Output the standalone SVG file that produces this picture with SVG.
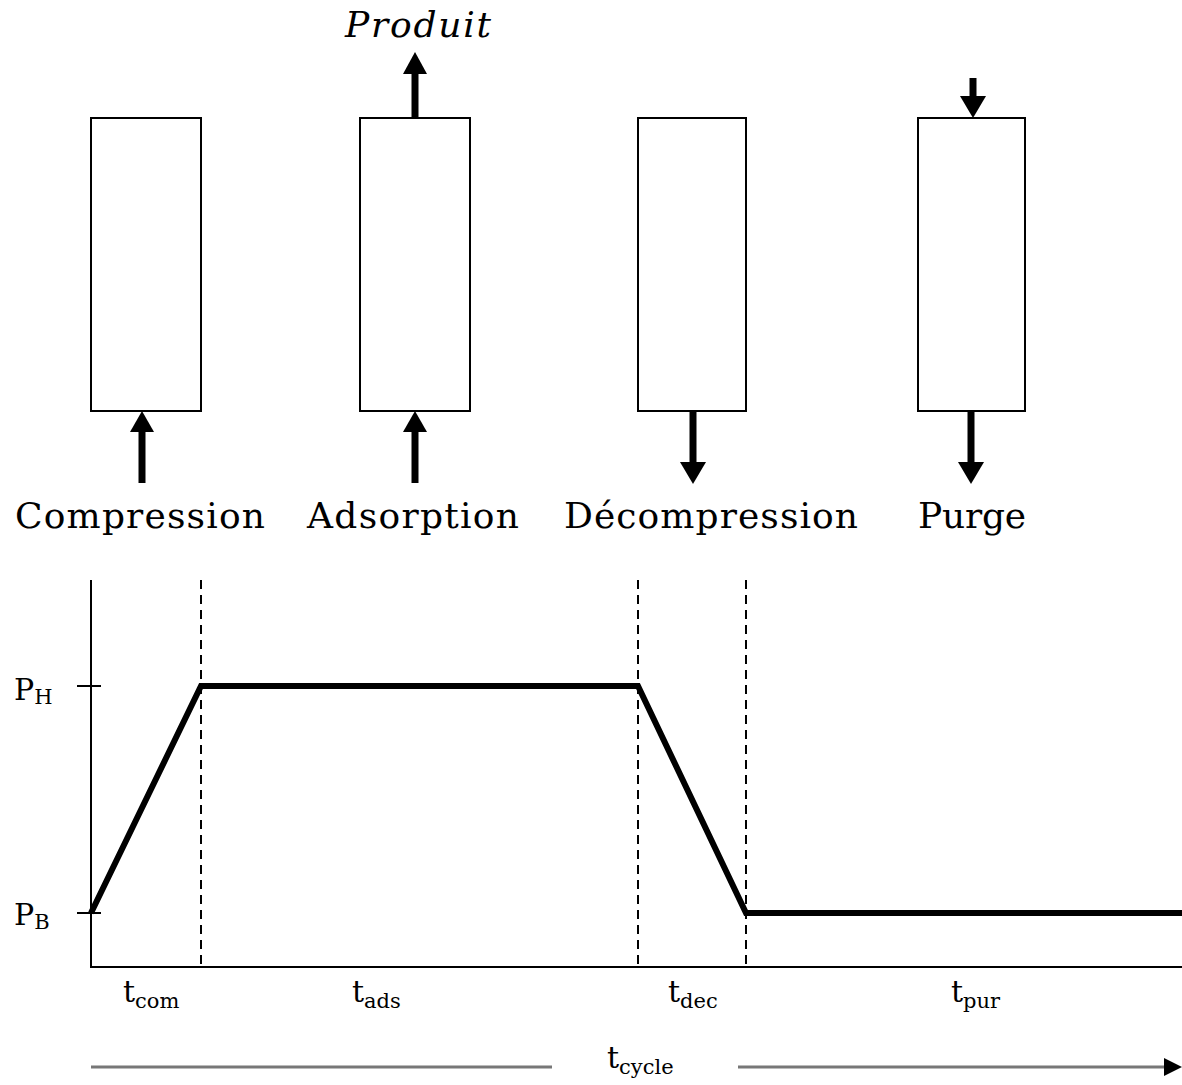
<svg xmlns="http://www.w3.org/2000/svg" width="1182" height="1085" viewBox="0 0 1182 1085">
<style>
.box{fill:#fff;stroke:#000;stroke-width:2}
.arr{stroke:#000;stroke-width:7;fill:none}
.head{fill:#000}
.lbl{font-family:"DejaVu Serif","Liberation Serif",serif;font-size:36px;fill:#000}
.sm{font-family:"DejaVu Serif","Liberation Serif",serif;font-size:30px;fill:#000}
.sub{font-size:21px}
.dash{stroke:#000;stroke-width:2;stroke-dasharray:9,6}
.axis{stroke:#000;stroke-width:2;fill:none}
.curve{stroke:#000;stroke-width:6;fill:none;stroke-linejoin:miter}
.gray{stroke:#777;stroke-width:3}
</style>
<rect width="1182" height="1085" fill="#fff"/>
<g id="node-compression">
<rect class="box" x="91" y="118" width="110" height="293"/>
<text class="lbl" x="140" y="528" text-anchor="middle" textLength="250">Compression</text>
</g>
<g id="node-adsorption">
<rect class="box" x="360" y="118" width="110" height="293"/>
<text class="lbl" x="413" y="528" text-anchor="middle" textLength="212">Adsorption</text>
<text class="lbl" x="418" y="37" text-anchor="middle" font-style="italic" font-size="34" textLength="146">Produit</text>
</g>
<g id="node-decompression">
<rect class="box" x="638" y="118" width="108" height="293"/>
<text class="lbl" x="711" y="528" text-anchor="middle" textLength="294">Décompression</text>
</g>
<g id="node-purge">
<rect class="box" x="918" y="118" width="107" height="293"/>
<text class="lbl" x="972" y="528" text-anchor="middle" textLength="108">Purge</text>
</g>
<g id="connectors">
<line class="arr" x1="142" y1="483" x2="142" y2="428"/>
<polygon class="head" points="142,411 130,432 154,432"/>
<line class="arr" x1="415" y1="483" x2="415" y2="428"/>
<polygon class="head" points="415,411 403,432 427,432"/>
<line class="arr" x1="415" y1="118" x2="415" y2="70"/>
<polygon class="head" points="415,52 403,74 427,74"/>
<line class="arr" x1="693" y1="411" x2="693" y2="465"/>
<polygon class="head" points="693,484 680,462 706,462"/>
<line class="arr" x1="973" y1="78" x2="973" y2="100"/>
<polygon class="head" points="973,118 960,96 986,96"/>
<line class="arr" x1="971" y1="411" x2="971" y2="465"/>
<polygon class="head" points="971,484 958,462 984,462"/>
</g>
<g id="chart">
<line class="dash" x1="201" y1="580" x2="201" y2="967"/>
<line class="dash" x1="638" y1="580" x2="638" y2="967"/>
<line class="dash" x1="746" y1="580" x2="746" y2="967"/>
<polyline class="axis" points="91,580 91,967 1182,967"/>
<line class="axis" x1="77" y1="686" x2="101" y2="686"/>
<line class="axis" x1="77" y1="913" x2="101" y2="913"/>
<polyline class="curve" points="91,913 201,686 638,686 746,913 1182,913"/>
<text class="sm" x="14" y="700">P<tspan class="sub" dy="4">H</tspan></text>
<text class="sm" x="14" y="925">P<tspan class="sub" dy="4">B</tspan></text>
<text class="sm" x="123" y="1002">t<tspan class="sub" dy="6">com</tspan></text>
<text class="sm" x="352" y="1002">t<tspan class="sub" dy="6">ads</tspan></text>
<text class="sm" x="668" y="1002">t<tspan class="sub" dy="6">dec</tspan></text>
<text class="sm" x="951" y="1002">t<tspan class="sub" dy="6">pur</tspan></text>
<text class="sm" x="607" y="1068">t<tspan class="sub" dy="6">cycle</tspan></text>
<line class="gray" x1="91" y1="1067" x2="552" y2="1067"/>
<line class="gray" x1="738" y1="1067" x2="1166" y2="1067"/>
<polygon class="head" points="1182,1067 1164,1058 1164,1076"/>
</g>
</svg>
